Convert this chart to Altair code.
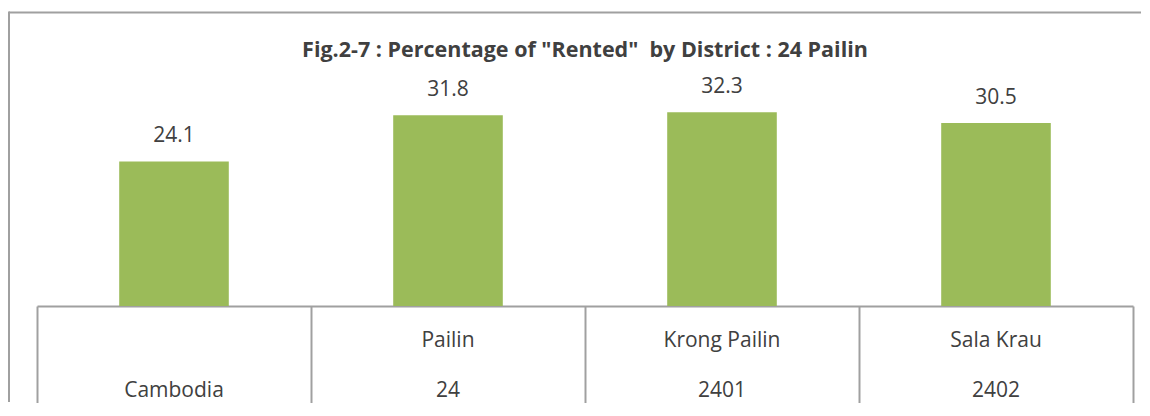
import altair as alt
import pandas as pd

codes = ["Cambodia", "24", "2401", "2402"]
names = ["", "Pailin", "Krong Pailin", "Sala Krau"]
values = [24.1, 31.8, 32.3, 30.5]
title_text = 'Fig.2-7 : Percentage of "Rented" \u00a0by District : 24 Pailin'

df = pd.DataFrame({"code": codes, "name": names, "value": values})

FONT = "Open Sans"
TXT = "#404040"
LINE = "#A0A0A0"
W, H = 1096, 240
PAD = {"left": 29, "top": 58, "right": 9, "bottom": 97}

x_enc = alt.X(
    "code:N",
    sort=codes,
    scale=alt.Scale(paddingInner=0, paddingOuter=0),
    axis=alt.Axis(
        title=None,
        labels=False,
        domain=True,
        domainColor=LINE,
        domainWidth=2,
        ticks=True,
        tickBand="extent",
        tickSize=PAD["bottom"],
        tickColor=LINE,
        tickWidth=2,
        grid=False,
    ),
)
y_enc = alt.Y("value:Q", scale=alt.Scale(domain=[0, 40]), axis=None)

base = alt.Chart(df)
one = alt.datum.code == codes[0]

frame_top = base.mark_rule(color=LINE, strokeWidth=2).encode(
    x=alt.value(-28), x2=alt.value(W + 8), y=alt.value(-53.5)
).transform_filter(one)
frame_left = base.mark_rule(color=LINE, strokeWidth=2).encode(
    x=alt.value(-28), x2=alt.value(-28), y=alt.value(-54.5), y2=alt.value(H + PAD["bottom"] - 1)
).transform_filter(one)

title = base.mark_text(
    baseline="middle", align="center", fontSize=21.5, font=FONT, fontWeight="bold", color=TXT
).encode(x=alt.value(W / 2), y=alt.value(-15), text=alt.value(title_text)).transform_filter(one)

bars = base.mark_bar(width=alt.RelativeBandSize(0.4), color="#9BBB59").encode(
    x=x_enc, y=y_enc
)

vals = base.mark_text(
    baseline="alphabetic", dy=-19, fontSize=21, font=FONT, color=TXT
).encode(x=alt.X("code:N", sort=codes), y=y_enc, text=alt.Text("value:Q", format=".1f"))

row1 = base.mark_text(baseline="middle", fontSize=21, font=FONT, color=TXT).encode(
    x=alt.X("code:N", sort=codes), y=alt.value(275), text="name:N"
)
row2 = base.mark_text(baseline="middle", fontSize=21, font=FONT, color=TXT).encode(
    x=alt.X("code:N", sort=codes), y=alt.value(325), text="code:N"
)

chart = (
    alt.layer(frame_top, frame_left, title, bars, vals, row1, row2)
    .properties(
        width=W,
        height=H,
        autosize=alt.AutoSizeParams(type="none"),
        padding=PAD,
    )
    .configure_view(stroke=None)
)

chart.save("out.html", embed_options={"renderer": "svg", "actions": False})
